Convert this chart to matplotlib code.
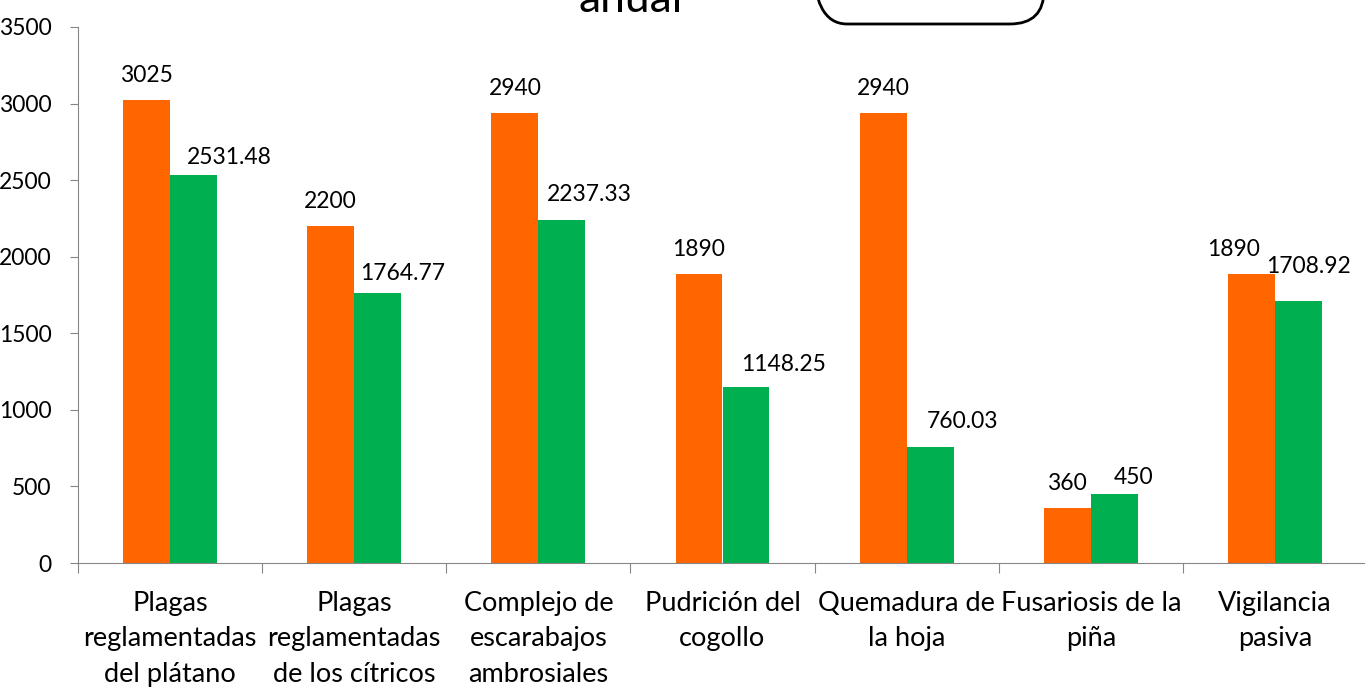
import numpy as np
import matplotlib.pyplot as plt
from matplotlib.patches import FancyBboxPatch
from matplotlib.transforms import IdentityTransform

categorias = ["Plagas\nreglamentadas\ndel plátano",
              "Plagas\nreglamentadas\nde los cítricos",
              "Complejo de\nescarabajos\nambrosiales",
              "Pudrición del\ncogollo",
              "Quemadura de\nla hoja",
              "Fusariosis de la\npiña",
              "Vigilancia\npasiva"]
programado = [3025, 2200, 2940, 1890, 2940, 360, 1890]
ejecutado = [2531.48, 1764.77, 2237.33, 1148.25, 760.03, 450, 1708.92]
etiq_prog = ["3025", "2200", "2940", "1890", "2940", "360", "1890"]
etiq_ejec = ["2531.48", "1764.77", "2237.33", "1148.25", "760.03", "450", "1708.92"]

# desplazamientos (pixeles) de las etiquetas, movidas a mano en el original
dx_prog = [0, 0, 0, 0, 0, 0, -18]
dx_ejec = [36, 25, 27, 38, 32, 19, 10]
dy_ejec = [7, 9, 15, 12, 15, 6, 24]

plt.rcParams['font.family'] = ['Lato', 'DejaVu Sans']
fs = 16.5

fig = plt.figure(figsize=(13.65, 6.87), dpi=100)
ax = fig.add_axes([78/1365, 124/687, 1289/1365, 536/687])

x = np.arange(len(categorias))
w = 0.255
ax.bar(x - w/2, programado, w, color="#FF6600")
ax.bar(x + w/2, ejecutado, w, color="#00B050")

px = 72/100  # pixeles -> puntos
for i in range(len(x)):
    ax.annotate(etiq_prog[i], (x[i] - w/2, programado[i]),
                xytext=(dx_prog[i]*px, 14*px),
                textcoords="offset points", ha="center", va="bottom", fontsize=fs)
    ax.annotate(etiq_ejec[i], (x[i] + w/2, ejecutado[i]),
                xytext=(dx_ejec[i]*px, dy_ejec[i]*px),
                textcoords="offset points", ha="center", va="bottom", fontsize=fs)

ax.set_xlim(-0.5, len(x) - 0.5)
ax.set_ylim(0, 3500)
ax.set_yticks(np.arange(0, 3501, 500))
ax.tick_params(axis="y", labelsize=fs, length=6, color="#868686", pad=13)

ax.set_xticks(np.arange(-0.5, len(x), 1))
ax.set_xticklabels([])
ax.set_xticks(x, minor=True)
ax.set_xticklabels(categorias, minor=True, fontsize=19.5, linespacing=1.52)
ax.tick_params(axis="x", which="major", length=7, color="#868686")
ax.tick_params(axis="x", which="minor", length=0, pad=20)

for s in ["top", "right"]:
    ax.spines[s].set_visible(False)
for s in ["left", "bottom"]:
    ax.spines[s].set_color("#868686")

# titulo recortado por arriba y recuadro redondeado
fig.text(631/1365, 1 - 12/687, "anual", ha="center", va="baseline", fontsize=32)
caja = FancyBboxPatch((813, 687 - 24), 231, 100,
                      boxstyle="round,pad=0,rounding_size=34",
                      transform=IdentityTransform(), fill=False, lw=2, ec="black")
fig.patches.append(caja)

fig.savefig("out.png", dpi=100)
